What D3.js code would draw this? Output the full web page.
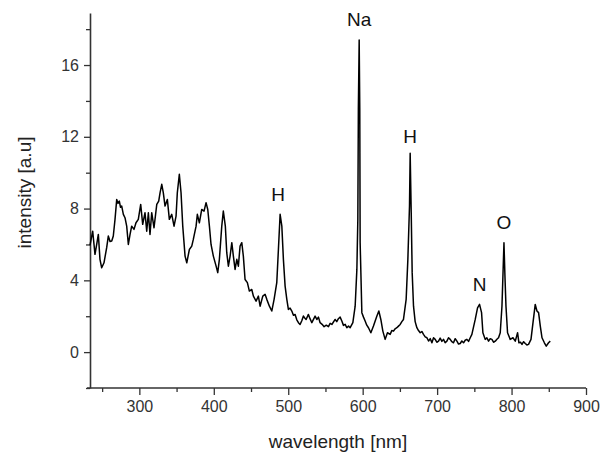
<!DOCTYPE html>
<html>
<head>
<meta charset="utf-8">
<script src="https://cdn.jsdelivr.net/npm/d3@7"></script>
<style>
  body { margin: 0; background: #fff; }
  text { font-family: "Liberation Sans", Arial, sans-serif; }
</style>
</head>
<body>
<div id="chart"></div>
<script>
// spectrum: wavelength [nm] and intensity [a.u]
const wavelength = [233.7,237.3,239.1,240.4,242.7,244.9,247.1,249.4,252.5,256.1,258.3,260.6,262.9,265.0,267.3,269.6,271.3,273.1,274.7,276.3,
  278.5,280.7,283.0,285.2,287.5,289.7,292.8,295.5,298.6,301.8,304.5,307.6,309.9,312.1,314.3,316.6,319.7,323.4,326.0,327.8,
  330.1,332.2,334.5,337.6,340.3,343.5,346.6,349.3,351.0,353.7,356.0,358.3,361.4,363.7,367.2,370.4,372.5,376.2,377.9,380.6,
  383.8,386.9,389.6,391.9,394.1,396.3,399.4,403.1,405.3,407.5,410.7,412.8,415.5,417.4,419.6,421.9,424.2,426.3,428.6,430.9,
  433.0,435.3,437.6,439.7,442.0,445.1,447.8,451.0,453.2,456.8,459.9,462.2,465.8,468.9,471.2,474.7,477.9,481.0,484.6,486.8,
  489.1,491.4,493.5,495.8,498.1,500.2,502.5,504.8,507.0,509.2,511.5,513.7,515.9,518.2,520.4,522.2,524.0,527.1,529.4,531.7,
  536.1,538.4,540.6,542.8,545.5,548.2,551.1,554.0,556.3,558.6,563.0,565.2,567.4,569.7,572.0,574.2,576.5,578.7,581.0,583.2,
  586.8,589.9,592.2,593.5,594.2,595.3,596.1,596.6,598.9,601.1,603.3,605.5,607.8,611.0,614.5,619.1,
  621.7,624.4,627.1,630.2,633.3,636.9,639.1,641.4,643.6,645.9,648.1,650.4,652.6,654.8,658.4,660.7,662.9,663.8,665.2,666.5,
  668.3,670.5,672.8,675.0,677.3,679.5,681.7,684.0,686.3,688.5,690.8,693.0,695.2,697.4,699.6,701.9,704.1,706.4,708.6,710.8,
  713.1,715.3,717.6,719.8,722.0,724.3,726.6,728.8,731.0,733.2,735.5,737.7,740.0,742.2,744.5,746.7,751.2,754.3,757.0,759.7,
  761.5,764.6,766.8,769.1,771.3,773.6,775.8,778.1,780.3,782.5,784.8,787.1,788.4,789.8,791.1,792.5,794.6,796.4,798.2,801.9,
  805.0,808.1,809.9,812.0,814.0,816.2,818.4,820.6,822.8,826.1,828.8,831.8,834.1,836.3,838.6,840.9,844.1,846.6,849.7,852.0];
const intensity = [5.95,6.74,6.00,5.45,6.00,6.56,5.17,4.70,4.98,5.82,6.47,6.17,6.19,6.47,7.40,8.51,8.29,8.42,8.07,8.14,
  7.68,7.49,7.02,6.00,6.56,7.02,6.84,7.21,7.40,8.23,7.12,7.77,6.74,7.77,6.56,7.77,6.93,8.23,8.42,8.88,
  9.35,8.88,8.14,8.51,7.40,7.68,7.02,7.58,8.88,9.91,8.88,7.02,5.35,4.98,5.72,5.91,6.28,7.02,7.68,7.21,
  7.95,7.86,8.33,7.95,7.02,6.00,5.35,4.79,4.43,5.17,7.02,7.86,7.02,5.54,4.79,5.35,6.10,5.35,4.61,5.17,
  4.79,5.91,6.10,5.35,4.05,3.87,3.40,3.49,3.12,2.84,3.12,2.56,3.12,3.22,2.94,2.56,2.29,2.94,3.87,5.72,
  7.68,7.02,5.17,3.68,2.94,2.38,2.45,2.29,2.05,2.10,1.80,1.64,1.54,1.75,2.01,1.90,1.82,2.10,1.85,1.64,
  2.01,1.82,1.95,1.64,1.55,1.42,1.50,1.42,1.60,1.54,1.82,1.70,1.86,1.95,1.73,1.49,1.55,1.36,1.45,1.36,
  1.64,2.56,4.61,7.40,13.53,17.39,13.53,6.10,2.20,1.95,1.73,1.50,1.36,1.08,1.45,2.01,
  2.29,1.82,1.17,0.71,1.08,0.99,1.20,1.17,1.30,1.36,1.45,1.54,1.70,1.82,2.94,5.17,8.14,11.08,7.79,4.43,
  2.56,1.70,1.36,1.20,1.08,1.15,0.99,0.85,0.80,0.62,0.75,0.52,0.80,0.71,0.55,0.61,0.78,0.60,0.71,0.52,
  0.61,0.80,0.71,0.58,0.52,0.75,0.61,0.45,0.48,0.62,0.52,0.66,0.71,0.60,0.80,0.99,1.82,2.47,2.66,2.20,
  1.08,0.71,0.80,0.61,0.75,0.71,0.55,0.61,0.72,0.80,1.08,2.56,4.24,6.10,4.24,2.56,1.08,0.90,0.71,0.80,
  0.61,1.08,0.52,0.55,0.43,0.58,0.48,0.40,0.43,0.71,1.64,2.66,2.29,2.20,1.45,0.80,0.52,0.33,0.52,0.61];

// peak labels
const peakNames = ["H", "Na", "H", "N", "O"];
const peakWave = [486.4, 595.3, 663.8, 757.0, 789.8];
const peakLevel = [8.42, 18.15, 11.68, 3.4, 6.84];

const xTicks = [300, 400, 500, 600, 700, 800, 900];
const yTicks = [0, 4, 8, 12, 16];

const width = 612, height = 453;
const margin = { top: 13, right: 26, bottom: 65, left: 90 };

const svg = d3.select("#chart").append("svg").attr("width", width).attr("height", height);

const x = d3.scaleLinear().domain([233.7, 900]).range([margin.left, width - margin.right]);
const y = d3.scaleLinear().domain([-2, 18.9]).range([height - margin.bottom, margin.top]);

// minor ticks first (no labels), then the major axis on top
const xMinor = d3.range(250, 900, 100);
const yMinor = d3.range(-2, 19, 4);

svg.append("g").attr("class", "x-minor").attr("transform", `translate(0,${y(-2)})`)
  .call(d3.axisBottom(x).tickValues(xMinor).tickSize(4).tickFormat(""))
  .call(g => g.select(".domain").remove());
svg.append("g").attr("class", "y-minor").attr("transform", `translate(${x(233.7)},0)`)
  .call(d3.axisLeft(y).tickValues(yMinor).tickSize(4).tickFormat(""))
  .call(g => g.select(".domain").remove());

const xAxis = svg.append("g").attr("transform", `translate(0,${y(-2)})`)
  .call(d3.axisBottom(x).tickValues(xTicks).tickSize(7).tickSizeOuter(0).tickPadding(6));
const yAxis = svg.append("g").attr("transform", `translate(${x(233.7)},0)`)
  .call(d3.axisLeft(y).tickValues(yTicks).tickSize(6).tickSizeOuter(0).tickPadding(5));
// bottom axis line sticks out a little to the left like the original
xAxis.select(".domain").attr("d", `M${x(233.7) - 3},0H${x(900)}`);

svg.selectAll(".domain").attr("stroke", "#333").attr("stroke-width", 1.6);
svg.selectAll(".tick line").attr("stroke", "#333").attr("stroke-width", 1.3);
svg.selectAll(".tick text").attr("fill", "#333").style("font-size", "16px");

// spectrum line
const line = d3.line().x((d, i) => x(wavelength[i])).y(d => y(d));
svg.append("path").datum(intensity)
  .attr("fill", "none").attr("stroke", "#000").attr("stroke-width", 1.5)
  .attr("stroke-linejoin", "round").attr("d", line);

// peak annotations
svg.selectAll(".peak").data(peakNames).enter().append("text").attr("class", "peak")
  .attr("x", (d, i) => x(peakWave[i])).attr("y", (d, i) => y(peakLevel[i]))
  .attr("text-anchor", "middle").attr("fill", "#111").style("font-size", "19px")
  .text(d => d);

// axis titles
svg.append("text").attr("x", (x.range()[0] + x.range()[1]) / 2).attr("y", 448)
  .attr("text-anchor", "middle").attr("fill", "#222").style("font-size", "19px")
  .text("wavelength [nm]");
svg.append("text").attr("transform", `translate(31,${(y.range()[0] + y.range()[1]) / 2 - 8}) rotate(-90)`)
  .attr("text-anchor", "middle").attr("fill", "#222").style("font-size", "19px")
  .text("intensity [a.u]");
</script>
</body>
</html>
